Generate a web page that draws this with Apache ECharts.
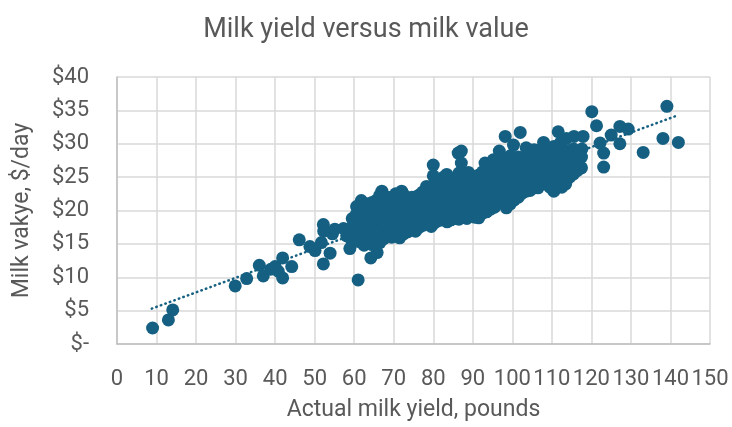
<!DOCTYPE html>
<html>
<head>
<meta charset="utf-8">
<script src="https://cdn.jsdelivr.net/npm/echarts@6/dist/echarts.min.js"></script>
<style>
  html, body { margin: 0; padding: 0; background: #ffffff; }
  #chart { width: 732px; height: 427px; }
</style>
</head>
<body>
<div id="chart"></div>
<script>
// Chart texts
const chartTitle = 'Milk yield versus milk value';
const xAxisTitle = 'Actual milk yield, pounds';
const yAxisTitle = 'Milk vakye, $/day';

// Axis ranges and tick steps
const xRange = [0, 150];
const xStep = 10;
const yRange = [0, 40];
const yStep = 5;

// Daily records: [milk yield (lb), milk value ($/day)]
const lowYieldDays = [
  [9.0, 2.4], [13.0, 3.6], [14.1, 5.1], [29.9, 8.7], [32.8, 9.8], [36.0, 11.8],
  [37.0, 10.2], [38.9, 11.2], [40.0, 11.6], [40.8, 10.9], [41.9, 12.9], [41.9, 9.9],
  [44.2, 11.6], [46.1, 15.6], [48.8, 14.6], [50.1, 14.0], [51.7, 15.2], [52.2, 12.0],
  [53.9, 13.6], [52.2, 17.9], [52.3, 16.9], [54.5, 16.5], [55.1, 17.2], [57.3, 17.3],
  [58.1, 16.2], [58.9, 14.3], [60.6, 16.7], [61.0, 9.6], [61.8, 21.5], [64.2, 12.9],
  [65.8, 13.7]
];

const midYieldDays = [
  [59.5, 15.2], [59.5, 16.4], [59.5, 17.6], [59.5, 18.8],
  [60.5, 15.8], [60.5, 17.0], [60.4, 18.2], [60.5, 19.4], [60.6, 20.6],
  [61.5, 15.3], [61.5, 16.5], [61.4, 17.8], [61.5, 19.0], [61.6, 20.2],
  [62.5, 14.8], [62.5, 16.0], [62.6, 17.2], [62.5, 18.4], [62.4, 19.6], [62.5, 20.8],
  [63.5, 15.2], [63.4, 16.6], [63.5, 17.8], [63.6, 19.0], [63.5, 20.2], [63.5, 21.0],
  [64.5, 14.9], [64.5, 16.2], [64.4, 17.4], [64.5, 18.6], [64.6, 19.8], [64.5, 21.2],
  [65.5, 15.5], [65.5, 16.8], [65.6, 18.0], [65.5, 19.2], [65.4, 20.4], [65.5, 21.5],
  [66.5, 15.2], [66.5, 16.4], [66.4, 17.6], [66.5, 18.8], [66.6, 20.0], [66.5, 21.2], [66.5, 22.3],
  [67.5, 15.8], [67.5, 17.0], [67.6, 18.2], [67.5, 19.4], [67.4, 20.6], [67.5, 21.8], [67.0, 22.9],
  [68.5, 16.2], [68.5, 17.5], [68.4, 18.8], [68.5, 20.0], [68.6, 21.2], [68.5, 22.0],
  [69.5, 16.0], [69.5, 17.2], [69.6, 18.4], [69.5, 19.6], [69.4, 20.8], [69.5, 22.0],
  [70.5, 16.4], [70.5, 17.8], [70.4, 19.0], [70.5, 20.2], [70.6, 21.4], [70.5, 22.5],
  [71.5, 15.9], [71.5, 17.0], [71.6, 18.2], [71.5, 19.5], [71.4, 20.8], [71.5, 22.0], [72.0, 22.9],
  [72.5, 16.5], [72.5, 17.7], [72.4, 18.9], [72.5, 20.1], [72.6, 21.3], [72.5, 22.4],
  [73.5, 16.8], [73.5, 18.0], [73.6, 19.2], [73.5, 20.4], [73.4, 21.6],
  [74.5, 17.2], [74.5, 18.4], [74.4, 19.6], [74.5, 20.8], [74.6, 22.0],
  [75.5, 16.9], [75.5, 18.0], [75.6, 19.2], [75.5, 20.4], [75.4, 21.6], [75.8, 22.1],
  [76.5, 17.5], [76.5, 18.7], [76.4, 19.9], [76.5, 21.1], [76.6, 22.4],
  [77.5, 17.8], [77.5, 19.0], [77.6, 20.2], [77.5, 21.4], [77.4, 22.8],
  [78.5, 18.0], [78.5, 19.3], [78.4, 20.5], [78.5, 21.7], [78.6, 23.0], [78.3, 23.6],
  [79.5, 17.6], [79.5, 18.8], [79.6, 20.0], [79.5, 21.2], [79.4, 22.4], [79.5, 23.4],
  [80.0, 26.8], [80.0, 25.2],
  [80.5, 18.2], [80.5, 19.4], [80.4, 20.6], [80.5, 21.8], [80.6, 23.0], [80.5, 24.0],
  [81.5, 18.5], [81.5, 19.7], [81.6, 20.9], [81.5, 22.1], [81.4, 23.3], [81.5, 24.3],
  [82.5, 18.7], [82.5, 19.9], [82.4, 21.1], [82.5, 22.3], [82.6, 23.5], [82.6, 25.0],
  [83.4, 25.4],
  [83.5, 18.3], [83.5, 19.5], [83.6, 20.7], [83.5, 21.9], [83.4, 23.1], [83.5, 24.2],
  [84.5, 18.6], [84.5, 19.8], [84.4, 21.0], [84.5, 22.2], [84.6, 23.4], [84.5, 24.5],
  [85.5, 18.8], [85.5, 20.0], [85.6, 21.2], [85.5, 22.4], [85.4, 23.6], [85.5, 24.8],
  [86.3, 28.6], [87.1, 28.9], [87.1, 27.1], [88.9, 25.7],
  [86.5, 18.7], [86.5, 19.9], [86.4, 21.1], [86.5, 22.3], [86.6, 23.5], [86.5, 24.6], [86.5, 25.6],
  [87.5, 19.0], [87.5, 20.2], [87.6, 21.4], [87.5, 22.6], [87.4, 23.8], [87.5, 25.0],
  [88.5, 18.8], [88.5, 20.0], [88.4, 21.2], [88.5, 22.4], [88.6, 23.6], [88.5, 24.8],
  [89.5, 19.2], [89.5, 20.4], [89.6, 21.6], [89.5, 22.8], [89.4, 24.0], [89.5, 25.2],
  [90.5, 19.0], [90.5, 20.2], [90.4, 21.4], [90.5, 22.6], [90.6, 23.8], [90.5, 25.0],
  [91.5, 18.9], [91.5, 20.3], [91.6, 21.5], [91.5, 22.7], [91.4, 23.9], [91.5, 25.3],
  [92.5, 19.6], [92.5, 20.8], [92.4, 22.0], [92.5, 23.2], [92.6, 24.4], [92.5, 25.8], [93.1, 27.1],
  [93.5, 19.8], [93.5, 21.0], [93.6, 22.2], [93.5, 23.4], [93.4, 24.6], [93.5, 25.8],
  [94.5, 20.2], [94.5, 21.4], [94.4, 22.6], [94.5, 23.8], [94.6, 25.0], [94.5, 26.3],
  [95.5, 20.5], [95.5, 21.7], [95.6, 22.9], [95.5, 24.1], [95.4, 25.3], [95.5, 26.5], [95.2, 27.6],
  [96.5, 21.2], [96.5, 22.4], [96.4, 23.6], [96.5, 24.8], [96.6, 26.0], [96.5, 27.2], [96.7, 28.9],
  [97.5, 21.5], [97.5, 22.7], [97.6, 23.9], [97.5, 25.1], [97.4, 26.3], [97.5, 27.8],
  [98.5, 20.4], [98.5, 21.8], [98.4, 23.0], [98.5, 24.2], [98.6, 25.4], [98.5, 26.6],
  [98.2, 31.1],
  [99.5, 21.0], [99.5, 22.2], [99.6, 23.4], [99.5, 24.6], [99.4, 25.8], [99.5, 27.0], [99.5, 28.2]
];

const highYieldDays = [
  [100.3, 29.8], [102.0, 31.7], [103.5, 29.4], [105.5, 29.1], [107.9, 30.2],
  [100.5, 21.6], [100.5, 22.8], [100.4, 24.0], [100.5, 25.2], [100.6, 26.4], [100.5, 27.6],
  [101.5, 22.0], [101.5, 23.2], [101.6, 24.4], [101.5, 25.6], [101.4, 26.8], [101.5, 28.0],
  [102.5, 22.6], [102.5, 23.8], [102.4, 25.0], [102.5, 26.2], [102.6, 27.4],
  [103.5, 22.9], [103.5, 24.1], [103.6, 25.3], [103.5, 26.5], [103.4, 27.8],
  [104.5, 23.0], [104.5, 24.3], [104.4, 25.5], [104.5, 26.8], [104.6, 28.2],
  [105.5, 23.4], [105.5, 24.8], [105.6, 26.0], [105.5, 27.2], [105.4, 28.5],
  [106.5, 23.4], [106.5, 25.0], [106.4, 26.3], [106.5, 27.6],
  [107.5, 24.0], [107.5, 25.5], [107.6, 26.8], [107.5, 28.0], [107.4, 29.2],
  [108.5, 24.6], [108.5, 26.0], [108.4, 27.3], [108.5, 28.6],
  [109.5, 23.5], [109.5, 25.0], [109.6, 26.5], [109.5, 27.8],
  [110.5, 22.9], [110.5, 24.2], [110.4, 25.6], [110.5, 27.0], [110.6, 28.4], [110.5, 29.6],
  [111.5, 24.6], [111.5, 26.0], [111.6, 27.5], [111.5, 28.8],
  [111.6, 31.8], [112.1, 30.1], [113.7, 30.8], [115.6, 31.1], [117.9, 31.1],
  [112.5, 23.5], [112.5, 24.8], [112.4, 26.2], [112.5, 27.6], [112.6, 29.2],
  [113.5, 24.0], [113.5, 25.5], [113.6, 27.0], [113.5, 28.5],
  [114.5, 25.0], [114.5, 26.4], [114.4, 27.8], [114.5, 29.0],
  [115.5, 25.5], [115.5, 27.0], [115.6, 28.3], [115.5, 29.2],
  [116.5, 26.0], [116.5, 27.4], [117.1, 28.9],
  [117.5, 26.4], [117.5, 28.0], [117.6, 29.2],
  [120.1, 34.8], [121.3, 32.7], [122.2, 30.1], [123.1, 28.6], [123.1, 26.5],
  [125.0, 31.3], [127.2, 30.0], [127.2, 32.6], [129.3, 32.2], [133.1, 28.7],
  [138.1, 30.8], [139.1, 35.6], [142.0, 30.2]
];

const herd = lowYieldDays.concat(midYieldDays, highYieldDays);

// Linear trend line, end points [yield, value]
const trendEnds = [[8.8, 5.3], [141.6, 34.2]];

const ink = '#156082';
const textGrey = '#595959';
const gridGrey = '#d9d9d9';
const uiFont = 'Roboto, "Open Sans", "DejaVu Sans", sans-serif';

const chart = echarts.init(document.getElementById('chart'), null, { renderer: 'canvas' });
chart.setOption({
  animation: false,
  backgroundColor: '#ffffff',
  title: {
    text: chartTitle,
    left: 'center',
    top: 12,
    textStyle: { color: textGrey, fontFamily: uiFont, fontSize: 27, fontWeight: 'normal' }
  },
  grid: { left: 117, right: 22, top: 77, bottom: 82 },
  xAxis: {
    type: 'value',
    min: xRange[0], max: xRange[1], interval: xStep,
    name: xAxisTitle,
    nameLocation: 'middle',
    nameGap: 55,
    nameTextStyle: { color: textGrey, fontFamily: uiFont, fontSize: 23 },
    axisLine: { show: true, onZero: false, lineStyle: { color: '#bfbfbf', width: 1.5 } },
    axisTick: { show: false },
    axisLabel: { color: textGrey, fontFamily: uiFont, fontSize: 22, margin: 24, hideOverlap: false },
    splitLine: { show: true, lineStyle: { color: gridGrey, width: 1.5 } }
  },
  yAxis: {
    type: 'value',
    min: yRange[0], max: yRange[1], interval: yStep,
    name: yAxisTitle,
    nameLocation: 'middle',
    nameGap: 83,
    nameRotate: 90,
    nameTextStyle: { color: textGrey, fontFamily: uiFont, fontSize: 23 },
    axisLine: { show: true, lineStyle: { color: '#bfbfbf', width: 1.5 } },
    axisTick: { show: false },
    axisLabel: {
      color: textGrey, fontFamily: uiFont, fontSize: 22, margin: 28,
      formatter: v => (v === 0 ? '$-' : '$' + v)
    },
    splitLine: { show: true, lineStyle: { color: gridGrey, width: 1.5 } }
  },
  series: [
    {
      name: 'Milk value',
      type: 'scatter',
      data: herd,
      symbol: 'circle',
      symbolSize: 13,
      itemStyle: { color: ink, opacity: 1 },
      z: 2
    },
    {
      name: 'Linear trend',
      type: 'line',
      data: trendEnds,
      showSymbol: false,
      symbol: 'none',
      lineStyle: { color: ink, width: 2.5, type: [0.5, 4.3], cap: 'round' },
      z: 3
    }
  ]
});
</script>
</body>
</html>
